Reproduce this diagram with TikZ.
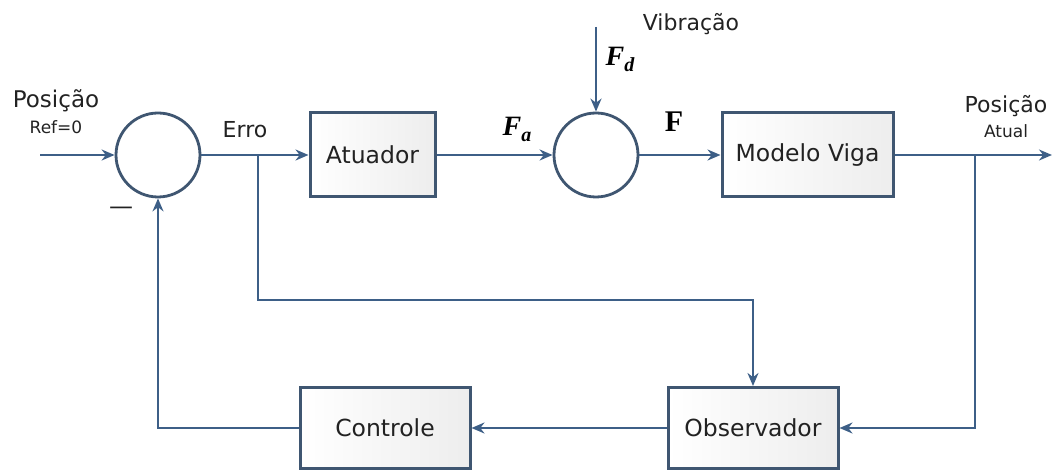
\documentclass[tikz,border=0pt]{standalone}
\usepackage{fontspec}
\setmainfont{DejaVu Sans}
\newfontfamily\symfont{Liberation Serif}
\usetikzlibrary{arrows.meta}
\definecolor{wire}{HTML}{3D5F87}
\definecolor{frame}{HTML}{3F5671}
\definecolor{ink}{HTML}{222222}
% bold italic force symbol with subscript
\newcommand{\forcesym}[1]{{\symfont\bfseries\itshape F\raisebox{-6pt}{\fontsize{20}{22}\selectfont #1}}}
\tikzset{
  block/.style={draw=frame, line width=3pt, left color=white, right color=black!7,
    minimum width=#1, minimum height=84pt, inner sep=0pt, font=\fontsize{23.5}{26}\selectfont, text=ink},
  sumnode/.style={circle, draw=frame, line width=2.8pt, fill=white, minimum size=84pt, inner sep=0pt},
  link/.style={draw=wire, line width=2.3pt, -{Stealth[length=13pt,width=11pt]}},
  lbl/.style={text=ink, inner sep=0pt, font=\fontsize{22}{24}\selectfont},
  small/.style={text=ink, inner sep=0pt, font=\fontsize{17}{19}\selectfont},
  sym/.style={text=black, inner sep=0pt, font=\fontsize{28}{30}\selectfont},
}
\begin{document}
\begin{tikzpicture}[x=1pt,y=-1pt]
\useasboundingbox (0,0) rectangle (1053,470);

% blocks and summing junctions
\node[sumnode] (s1) at (158,155) {};
\node[block=125pt] (atu) at (372.5,155) {Atuador};
\node[sumnode] (s2) at (596,155) {};
\node[block=171pt] (mod) at (807.5,155) {Modelo Viga};
\node[block=170pt, minimum height=81pt] (ctl) at (385,428) {Controle};
\node[block=170pt, minimum height=81pt] (obs) at (753,428) {Observador};

% free ends and branch points
\coordinate (in) at (40,155);
\coordinate (vib) at (596,27);
\coordinate (out) at (1052,155);
\coordinate (errbr) at (258,155);
\coordinate (outbr) at (975,155);

% forward path
\draw[link] (in) -- (s1.west);
\draw[link] (s1.east) -- (atu.west);
\draw[link] (atu.east) -- (s2.west);
\draw[link] (vib) -- (s2.north);
\draw[link] (s2.east) -- (mod.west);
\draw[link] (mod.east) -- (out);

% observer inputs
\draw[link] (errbr) -- (258,300) -| (obs.north);
\draw[link] (outbr) |- (obs.east);

% feedback path
\draw[link] (obs.west) -- (ctl.east);
\draw[link] (ctl.west) -| (s1.south);

% labels
\node[lbl, font=\fontsize{23}{25}\selectfont] (lpos) at (56,101) {Posição};
\node[small] (lref) at (56,127) {Ref=0};
\node[lbl, font=\fontsize{24}{26}\selectfont] (lminus) at (121,211) {—};
\node[lbl] (lerr) at (245,130) {Erro};
\node[sym] (lfa) at (517,129) {\forcesym{a}};
\node[sym, font=\fontsize{30}{32}\selectfont] (lf) at (674,122) {\symfont\bfseries F};
\node[sym] (lfd) at (620,59) {\forcesym{d}};
\node[lbl] (lvib) at (691,24) {Vibração};
\node[lbl] (lpos2) at (1006,106) {Posição};
\node[small] (latual) at (1006,131) {Atual};
\end{tikzpicture}
\end{document}
